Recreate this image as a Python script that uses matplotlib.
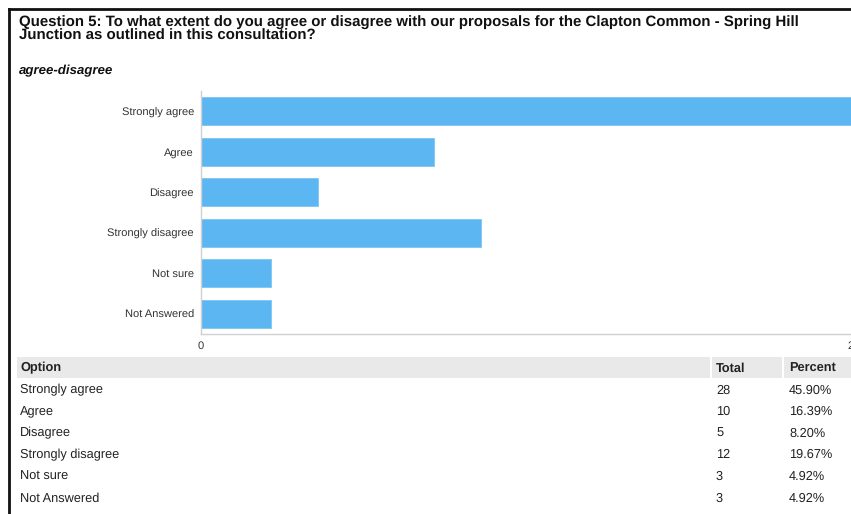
import matplotlib.pyplot as plt
from matplotlib.lines import Line2D
from matplotlib.patches import Rectangle

plt.rcParams["font.family"] = ["Liberation Sans", "DejaVu Sans"]
plt.rcParams["text.hinting"] = "no_hinting"

options = ["Strongly agree", "Agree", "Disagree", "Strongly disagree", "Not sure", "Not Answered"]
totals = [28, 10, 5, 12, 3, 3]
percents = ["45.90%", "16.39%", "8.20%", "19.67%", "4.92%", "4.92%"]
x_ticks = [0, 28]

W, H = 851, 514
fig = plt.figure(figsize=(W / 100, H / 100), dpi=100)
fig.patch.set_facecolor("white")


def fx(px):
    return px / W


def fy(py):
    return 1 - py / H


# outer frame (top and left edges of the screenshot box)
fig.add_artist(Line2D([fx(9), fx(9)], [fy(9), fy(H + 5)], transform=fig.transFigure, color="#111111", lw=2))
fig.add_artist(Line2D([fx(9), fx(W + 5)], [fy(9), fy(9)], transform=fig.transFigure, color="#111111", lw=2))

title_lines = ["Question 5: To what extent do you agree or disagree with our proposals for the Clapton Common - Spring Hill",
               "Junction as outlined in this consultation?"]
for ty, line in zip([27, 40], title_lines):
    fig.text(fx(19), fy(ty), line, fontsize=10.8, fontweight="bold", color="#111111", va="baseline", ha="left")
fig.text(fx(19), fy(74), "agree-disagree", fontsize=9.5, fontweight="bold", fontstyle="italic",
         color="#111111", va="baseline", ha="left")

# bar chart
ax = fig.add_axes([fx(201), fy(334), fx(854) - fx(201), fy(91) - fy(334)])
ypos = list(range(len(options)))
ax.barh(ypos, totals, height=0.7, color="#5cb6f1", edgecolor="#7cc6f5", linewidth=0.6)
ax.set_ylim(len(options) - 0.5, -0.5)
ax.set_xlim(0, 28)
ax.set_yticks(ypos)
ax.set_yticklabels(options, fontsize=8, color="#333333")
ax.set_xticks(x_ticks)
ax.set_xticklabels([str(t) for t in x_ticks], fontsize=8, color="#333333")
ax.tick_params(length=0, pad=5)
for s in ["top", "right"]:
    ax.spines[s].set_visible(False)
for s in ["left", "bottom"]:
    ax.spines[s].set_color("#d0d0d0")
    ax.spines[s].set_linewidth(1)

# table
fig.add_artist(Rectangle((fx(17), fy(378)), fx(W) - fx(17), fy(357) - fy(378),
                         transform=fig.transFigure, color="#e9e9e9", lw=0))
for sx in [711, 783]:
    fig.add_artist(Line2D([fx(sx), fx(sx)], [fy(378), fy(357)], transform=fig.transFigure, color="white", lw=1.5))

header_y = 371.5
fig.text(fx(20), fy(header_y), "Option", fontsize=9.2, fontweight="bold", color="#222222", va="baseline")
fig.text(fx(716), fy(header_y), "Total", fontsize=9.2, fontweight="bold", color="#222222", va="baseline")
fig.text(fx(789), fy(header_y), "Percent", fontsize=9.2, fontweight="bold", color="#222222", va="baseline")

row_y0, row_dy = 393.5, 21.6
for i, (opt, tot, pct) in enumerate(zip(options, totals, percents)):
    y = row_y0 + i * row_dy
    fig.text(fx(20), fy(y), opt, fontsize=9.2, color="#222222", va="baseline")
    fig.text(fx(716), fy(y), str(tot), fontsize=9.2, color="#222222", va="baseline")
    fig.text(fx(789), fy(y), pct, fontsize=9.2, color="#222222", va="baseline")

fig.savefig("out.png", dpi=100)
